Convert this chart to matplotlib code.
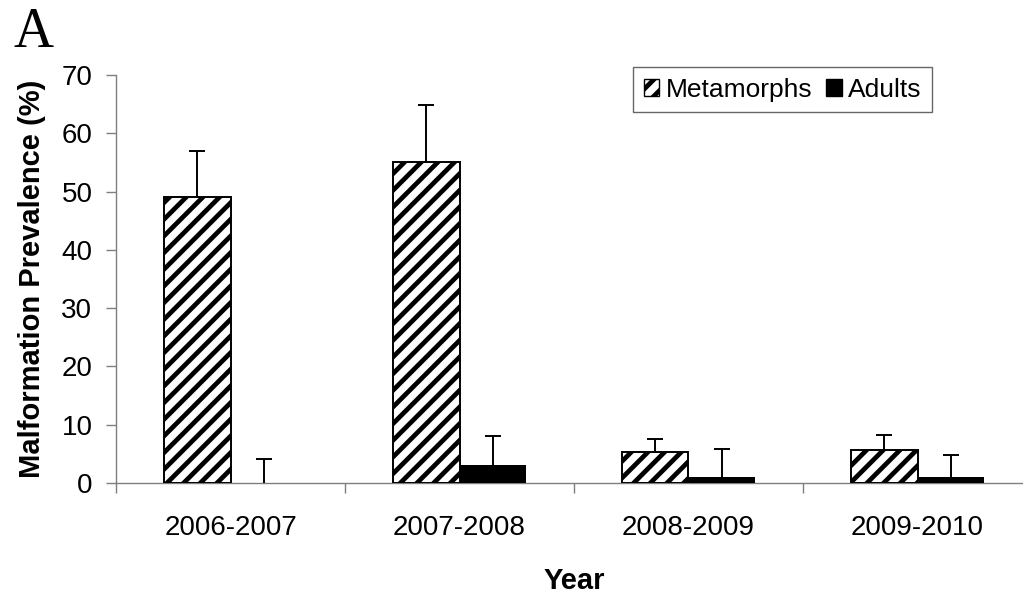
import numpy as np
import matplotlib
matplotlib.use("Agg")
import matplotlib.pyplot as plt
from matplotlib.patches import Patch

# malformation prevalence by survey year
years = ["2006-2007", "2007-2008", "2008-2009", "2009-2010"]
metamorphs = [49.0, 55.0, 5.3, 5.6]
metamorphs_err = [8.0, 9.8, 2.3, 2.7]
adults = [0.0, 3.1, 1.1, 1.1]
adults_err = [4.2, 4.9, 4.7, 3.7]

plt.rcParams["font.family"] = ["Liberation Sans", "DejaVu Sans"]
plt.rcParams["hatch.linewidth"] = 3.4
plt.rcParams["hatch.color"] = "black"

dpi = 100
fig = plt.figure(figsize=(1023 / dpi, 598 / dpi), dpi=dpi)
ax = fig.add_axes([116 / 1023, 115 / 598, 916 / 1023, 408 / 598])

x = np.arange(len(years))
w = 0.29
ax.bar(x - w / 2, metamorphs, w, color="white", edgecolor="black",
       linewidth=1.4, hatch="//", zorder=2)
# solid bars, no outline so a zero value leaves nothing on the baseline
ax.bar(x + w / 2, adults, w, color="black", linewidth=0, zorder=2)

err_kw = dict(fmt="none", ecolor="black", elinewidth=1.4, capsize=5.5,
              capthick=1.4, zorder=3)
for xs, vals, errs in [(x - w / 2, metamorphs, metamorphs_err),
                       (x + w / 2, adults, adults_err)]:
    eb = ax.errorbar(xs, vals, yerr=[np.zeros(len(x)), errs], **err_kw)
    # upper errors only: hide the cap that sits on the bar top
    for cap in eb[1]:
        if np.allclose(cap.get_ydata(), vals):
            cap.set_visible(False)

ax.set_xlim(-0.5, 3.5)
ax.set_ylim(0, 70)
ax.set_yticks(np.arange(0, 71, 10))
ax.set_xticks(x)
ax.set_xticklabels(years)
ax.set_xticks(np.arange(-0.5, 3.6, 1), minor=True)

gray = "#7f7f7f"
for s in ["top", "right"]:
    ax.spines[s].set_visible(False)
for s in ["left", "bottom"]:
    ax.spines[s].set_color(gray)
    ax.spines[s].set_linewidth(1.0)
    ax.spines[s].set_zorder(1)

ax.tick_params(axis="y", direction="out", length=7, width=1.0, color=gray,
               labelsize=20, pad=10)
ax.tick_params(axis="x", which="major", length=0, labelsize=20, pad=23)
ax.tick_params(axis="x", which="minor", direction="out", length=7.5,
               width=1.0, color=gray)

ax.set_xlabel("Year", fontsize=21, fontweight="bold", labelpad=19)
ax.set_ylabel("Malformation Prevalence (%)", fontsize=21,
              fontweight="bold", labelpad=11)

handles = [Patch(facecolor="white", edgecolor="black", hatch="//",
                 linewidth=1.0, label="Metamorphs"),
           Patch(facecolor="black", edgecolor="black", label="Adults")]
leg = ax.legend(handles=handles, loc="upper left",
                bbox_to_anchor=(517 / 916, 1 + 8 / 408), ncol=2, fontsize=19,
                frameon=True, fancybox=False, handlelength=0.6,
                handleheight=0.6, handletextpad=0.25, columnspacing=0.5,
                borderpad=0.4, borderaxespad=0)
leg.get_frame().set_edgecolor("#404040")
leg.get_frame().set_linewidth(1.0)

fig.text(14 / 1023, 1 - 47 / 598, "A", fontsize=40, va="baseline",
         family=["Liberation Serif", "DejaVu Serif"])

fig.savefig("out.png", dpi=dpi)
